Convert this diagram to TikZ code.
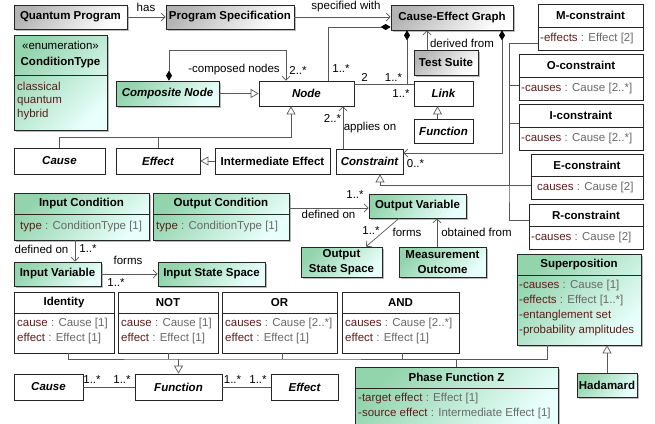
\documentclass[tikz,border=0pt]{standalone}
\usepackage{fontspec}
\setmainfont{Liberation Sans}
\usetikzlibrary{arrows.meta,shadows}

\definecolor{ngreen}{RGB}{146,212,172}
\definecolor{ncyan}{RGB}{232,255,251}
\definecolor{ngray}{RGB}{180,180,180}
\definecolor{attn}{RGB}{95,28,28}
\definecolor{attt}{RGB}{105,105,105}

\tikzset{
  cls/.style={draw=black!85, line width=.7pt, inner sep=0pt, font=\fontsize{11.5}{15}\selectfont\bfseries},
  abscls/.style={cls, fill=white, font=\fontsize{11.5}{15}\selectfont\bfseries\itshape},
  plaincls/.style={cls, fill=white},
  greencls/.style={cls, top color=ngreen, bottom color=ncyan, shading angle=45,
    drop shadow={shadow xshift=2pt, shadow yshift=-2pt, fill=black!45, opacity=.6}},
  graycls/.style={cls, top color=ngray, bottom color=white, shading angle=45,
    drop shadow={shadow xshift=2pt, shadow yshift=-2pt, fill=black!45, opacity=.6}},
  divl/.style={draw=black!85, line width=.7pt},
  ttl/.style={font=\fontsize{11.5}{15}\selectfont\bfseries, inner sep=1pt},
  att/.style={font=\fontsize{11.5}{15}\selectfont, inner sep=1pt, anchor=west},
  lbl/.style={font=\fontsize{11.5}{15}\selectfont, inner sep=1pt},
  con/.style={draw=black!65, line width=.7pt},
  assoc/.style={con, -{Straight Barb[length=4pt,width=8pt]}},
  genl/.style={con, -{Triangle[open,length=8pt,width=9pt,fill=white]}},
  compo/.style={con, {Diamond[length=10pt,width=6pt,color=black]}-},
  compa/.style={con, {Diamond[length=10pt,width=6pt,color=black]}-{Straight Barb[length=4pt,width=8pt]}},
}

\begin{document}
\begin{tikzpicture}[x=1pt,y=-1pt]
\useasboundingbox (0,0) rectangle (655,423);

% top row
\node[graycls, minimum width=113pt, minimum height=24pt] (qprog) at (70.5,17) {Quantum Program};
\node[graycls, minimum width=128pt, minimum height=24pt] (pspec) at (230,17) {Program Specification};
\node[graycls, minimum width=122pt, minimum height=25pt] (ceg) at (452,17.5) {Cause-Effect Graph};
\node[graycls, minimum width=64pt, minimum height=25pt] (tsuite) at (446,62.5) {Test Suite};

% enumeration
\node[greencls, minimum width=93pt, minimum height=95pt] (ctype) at (60.5,82.5) {};
\node[lbl] (ctypes) at (60.5,45) {«enumeration»};
\node[ttl] (ctypet) at (60.5,63) {ConditionType};
\draw[divl] (ctype.west |- 0,75) -- (ctype.east |- 0,75);
\node[att] (ctypea) at (16,86) {\textcolor{attn}{classical}};
\node[att] (ctypeb) at (16,100.5) {\textcolor{attn}{quantum}};
\node[att] (ctypec) at (16,115) {\textcolor{attn}{hybrid}};

% nodes and links
\node[greencls, font=\fontsize{11.5}{15}\selectfont\bfseries\itshape, minimum width=103pt, minimum height=25pt] (comp) at (167.5,93.5) {Composite Node};
\node[abscls, minimum width=95pt, minimum height=25pt] (nodecls) at (306.5,93.5) {Node};
\node[abscls, minimum width=59pt, minimum height=25pt] (link) at (443.5,93.5) {Link};
\node[abscls, minimum width=59pt, minimum height=24pt] (funcs) at (443.5,131) {Function};
\node[abscls, minimum width=91pt, minimum height=26pt] (cause) at (59.5,161) {Cause};
\node[abscls, minimum width=84pt, minimum height=26pt] (effect) at (158,161) {Effect};
\node[plaincls, minimum width=115pt, minimum height=26pt] (ieff) at (272.5,161) {Intermediate Effect};
\node[abscls, minimum width=67pt, minimum height=25pt] (constr) at (369.5,161.5) {Constraint};

% conditions and variables
\node[greencls, minimum width=135pt, minimum height=47pt] (incond) at (81.5,216.5) {};
\node[ttl] (incondt) at (81.5,203.5) {Input Condition};
\draw[divl] (incond.west |- 0,214) -- (incond.east |- 0,214);
\node[att] (inconda) at (19,227) {\textcolor{attn}{type} \textcolor{attt}{: ConditionType [1]}};
\node[greencls, minimum width=136pt, minimum height=47pt] (outcond) at (221,216.5) {};
\node[ttl] (outcondt) at (221,203.5) {Output Condition};
\draw[divl] (outcond.west |- 0,214) -- (outcond.east |- 0,214);
\node[att] (outconda) at (155,227) {\textcolor{attn}{type} \textcolor{attt}{: ConditionType [1]}};
\node[greencls, minimum width=87pt, minimum height=24pt] (invar) at (57.5,274) {Input Variable};
\node[greencls, minimum width=107pt, minimum height=24pt] (instate) at (211.5,274) {Input State Space};
\node[greencls, minimum width=97pt, minimum height=24pt] (outvar) at (417.5,206) {Output Variable};
\node[greencls, align=center, minimum width=81pt, minimum height=30pt] (outstate) at (341.5,262) {Output\\State Space};
\node[greencls, align=center, minimum width=87pt, minimum height=30pt] (measure) at (442.5,262) {Measurement\\Outcome};

% constraint kinds
\node[plaincls, minimum width=105pt, minimum height=46pt] (mcon) at (590.5,27) {};
\node[ttl] (mcont) at (590.5,15.5) {M-constraint};
\draw[divl] (mcon.west |- 0,27) -- (mcon.east |- 0,27);
\node[att] (mcona) at (539,38.5) {\textcolor{attn}{-effects} \textcolor{attt}{: Effect [2]}};
\node[plaincls, minimum width=124pt, minimum height=46pt] (ocon) at (581,77) {};
\node[ttl] (ocont) at (581,65.5) {O-constraint};
\draw[divl] (ocon.west |- 0,77) -- (ocon.east |- 0,77);
\node[att] (ocona) at (520,88.5) {\textcolor{attn}{-causes} \textcolor{attt}{: Cause [2..*]}};
\node[plaincls, minimum width=124pt, minimum height=46pt] (icon) at (581,127) {};
\node[ttl] (icont) at (581,115.5) {I-constraint};
\draw[divl] (icon.west |- 0,127) -- (icon.east |- 0,127);
\node[att] (icona) at (520,138.5) {\textcolor{attn}{-causes} \textcolor{attt}{: Cause [2..*]}};
\node[plaincls, minimum width=112pt, minimum height=45pt] (econ) at (587,176.5) {};
\node[ttl] (econt) at (587,165) {E-constraint};
\draw[divl] (econ.west |- 0,176) -- (econ.east |- 0,176);
\node[att] (econa) at (536,187.5) {\textcolor{attn}{causes} \textcolor{attt}{: Cause [2]}};
\node[plaincls, minimum width=114pt, minimum height=45pt] (rcon) at (586,226.5) {};
\node[ttl] (rcont) at (586,215) {R-constraint};
\draw[divl] (rcon.west |- 0,226) -- (rcon.east |- 0,226);
\node[att] (rcona) at (530,237.5) {\textcolor{attn}{-causes} \textcolor{attt}{: Cause [2]}};

% superposition
\node[greencls, minimum width=124pt, minimum height=91pt] (super) at (579,299.5) {};
\node[ttl] (supert) at (579,264.5) {Superposition};
\draw[divl] (super.west |- 0,275) -- (super.east |- 0,275);
\node[att] (supera) at (518,286) {\textcolor{attn}{-causes} \textcolor{attt}{: Cause [1]}};
\node[att] (superb) at (518,301) {\textcolor{attn}{-effects} \textcolor{attt}{: Effect [1..*]}};
\node[att] (superc) at (518,316) {\textcolor{attn}{-entanglement set}};
\node[att] (superd) at (518,331) {\textcolor{attn}{-probability amplitudes}};
\node[greencls, minimum width=60pt, minimum height=24pt] (hadam) at (607,385) {Hadamard};

% logic functions
\node[plaincls, minimum width=100pt, minimum height=61pt] (ident) at (64,322.5) {};
\node[ttl] (identt) at (64,302.5) {Identity};
\draw[divl] (ident.west |- 0,313) -- (ident.east |- 0,313);
\node[att] (identa) at (16,323.5) {\textcolor{attn}{cause} \textcolor{attt}{: Cause [1]}};
\node[att] (identb) at (16,338.5) {\textcolor{attn}{effect} \textcolor{attt}{: Effect [1]}};
\node[plaincls, minimum width=100pt, minimum height=61pt] (nots) at (168,322.5) {};
\node[ttl] (notst) at (168,302.5) {NOT};
\draw[divl] (nots.west |- 0,313) -- (nots.east |- 0,313);
\node[att] (notsa) at (120,323.5) {\textcolor{attn}{cause} \textcolor{attt}{: Cause [1]}};
\node[att] (notsb) at (120,338.5) {\textcolor{attn}{effect} \textcolor{attt}{: Effect [1]}};
\node[plaincls, minimum width=115pt, minimum height=61pt] (ors) at (279.5,322.5) {};
\node[ttl] (orst) at (279.5,302.5) {OR};
\draw[divl] (ors.west |- 0,313) -- (ors.east |- 0,313);
\node[att] (orsa) at (224,323.5) {\textcolor{attn}{causes} \textcolor{attt}{: Cause [2..*]}};
\node[att] (orsb) at (224,338.5) {\textcolor{attn}{effect} \textcolor{attt}{: Effect [1]}};
\node[plaincls, minimum width=117pt, minimum height=61pt] (ands) at (400.5,322.5) {};
\node[ttl] (andst) at (400.5,302.5) {AND};
\draw[divl] (ands.west |- 0,313) -- (ands.east |- 0,313);
\node[att] (andsa) at (344,323.5) {\textcolor{attn}{causes} \textcolor{attt}{: Cause [2..*]}};
\node[att] (andsb) at (344,338.5) {\textcolor{attn}{effect} \textcolor{attt}{: Effect [1]}};
\node[greencls, minimum width=203pt, minimum height=60pt] (phase) at (456.5,397) {};
\node[ttl] (phaset) at (456.5,377.5) {Phase Function Z};
\draw[divl] (phase.west |- 0,388) -- (phase.east |- 0,388);
\node[att] (phasea) at (357,398.5) {\textcolor{attn}{-target effect} \textcolor{attt}{: Effect [1]}};
\node[att] (phaseb) at (357,413.5) {\textcolor{attn}{-source effect} \textcolor{attt}{: Intermediate Effect [1]}};

% bottom row
\node[abscls, minimum width=69pt, minimum height=26pt] (cause2) at (48.5,387) {Cause};
\node[abscls, minimum width=87pt, minimum height=26pt] (func2) at (178.5,387) {Function};
\node[abscls, minimum width=67pt, minimum height=26pt] (effect2) at (304.5,387) {Effect};

% junctions
\coordinate (ntree) at (291,137);
\coordinate (ctree) at (509,185);
\coordinate (ftree) at (178.5,359);

% connectors
\draw[assoc] (qprog) -- (pspec);
\draw[assoc] (pspec.east) -- (ceg.west |- pspec.east);
\draw[compo] ([yshift=-9.5pt]ceg.west) -| ([xshift=21.5pt]nodecls.north);
\draw[compo] ([xshift=-45pt]ceg.south) |- ([yshift=9.5pt]link.west);
\draw[con] ([yshift=9.5pt]nodecls.east) -- ([yshift=9.5pt]link.west);
\draw[compa] ([xshift=50pt]ceg.south) |- ([yshift=8.5pt]constr.east);
\draw[assoc] ([xshift=-19pt]tsuite.north) -- ([xshift=-25pt]ceg.south);
\draw[genl] ([xshift=-6pt]funcs.north) -- ([xshift=-6pt]link.south);
\draw[genl] (comp) -- (nodecls);
\draw[compa] ([xshift=1.5pt]comp.north) -- ++(0,-30) -| ([xshift=-20.5pt]nodecls.north);
\draw[genl] (cause.north) |- (ntree) -- (ntree |- nodecls.south);
\draw[con] (effect.north) -- (effect.north |- ntree);
\draw[genl] (ieff) -- (effect);
\draw[assoc] ([xshift=-26.5pt]constr.north) -- ([xshift=36.5pt]nodecls.south);
\draw[genl] (econ.west |- ctree) -| ([xshift=10.5pt]constr.south);
\draw[con] ([yshift=-16pt]mcon.west) -| (ctree) |- ([yshift=6.5pt]rcon.west);
\draw[con] ([yshift=-8pt]ocon.west) -| (ctree);
\draw[con] ([yshift=4pt]icon.west) -| (ctree);
\draw[assoc] ([xshift=-6.5pt]incond.south) -- ([xshift=17.5pt]invar.north);
\draw[assoc] (invar) -- (instate);
\draw[assoc] ([yshift=8.5pt]outcond.east) -- ([yshift=-2pt]outvar.west);
\draw[assoc] ([xshift=-18.5pt]outvar.south) -- ([xshift=24.5pt]outstate.north);
\draw[assoc] ([xshift=-5.5pt]measure.north) -- ([xshift=19.5pt]outvar.south);
\draw[genl] (hadam.north) -- (hadam.north |- super.south);
\draw[genl] (ftree) -- (func2.north);
\draw[con] ([xshift=4pt]ident.south) |- (ftree) -| ([xshift=-32pt]super.south);
\draw[con] (nots.south) -- (nots.south |- ftree);
\draw[con] ([xshift=2.5pt]ors.south) -- ++(0,6);
\draw[con] ([xshift=1.5pt]ands.south) -- ++(0,6);
\draw[con] (phase.north) -- (phase.north |- ftree);
\draw[con] (cause2) -- (func2);
\draw[con] (func2) -- (effect2);

% labels
\path (146,7.5) node[lbl] (lhas) {has};
\path (346,7) node[lbl] (lspec) {specified with};
\path (234,70) node[lbl] (lcomp) {-composed nodes};
\path (298,70) node[lbl] (lcompm) {2..*};
\path (341,69) node[lbl] (lcegm) {1..*};
\path (364.5,77.5) node[lbl] (lnodem) {2};
\path (393.5,77.5) node[lbl] (llinkm) {1..*};
\path (401,94) node[lbl] (llinkn) {1..*};
\path (462,43) node[lbl] (lderiv) {derived from};
\path (332.5,118) node[lbl] (lappm) {2..*};
\path (370,128) node[lbl] (lapp) {applies on};
\path (415.5,163.5) node[lbl] (lconm) {0..*};
\path (41.5,249) node[lbl] (ldefin) {defined on};
\path (88,249) node[lbl] (ldefinm) {1..*};
\path (128,260) node[lbl] (lformin) {forms};
\path (116,282.5) node[lbl] (lforminm) {1..*};
\path (328.5,214.5) node[lbl] (ldefout) {defined on};
\path (355,195) node[lbl] (ldefoutm) {1..*};
\path (371,230.5) node[lbl] (lformoutm) {1..*};
\path (407,232) node[lbl] (lformout) {forms};
\path (476.5,232.5) node[lbl] (lobt) {obtained from};
\path (92,379.5) node[lbl] (lcfa) {1..*};
\path (122,379.5) node[lbl] (lcfb) {1..*};
\path (232.5,379.5) node[lbl] (lfea) {1..*};
\path (258,379.5) node[lbl] (lfeb) {1..*};
\end{tikzpicture}
\end{document}
